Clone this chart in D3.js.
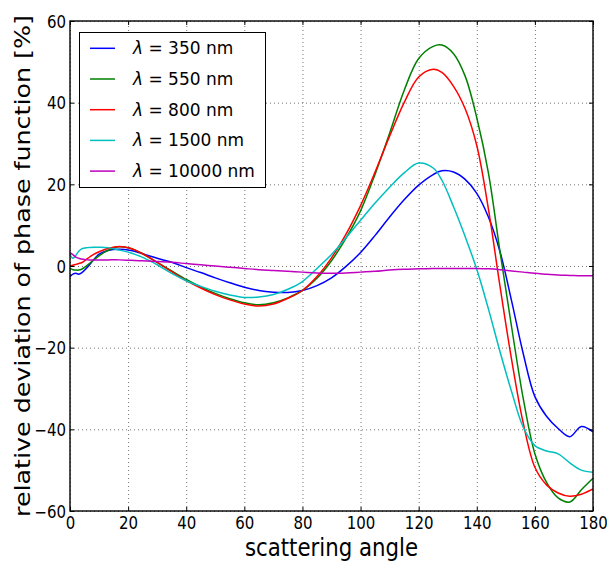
<!DOCTYPE html>
<html>
<head>
<meta charset="utf-8">
<script src="https://cdn.jsdelivr.net/npm/d3@7"></script>
<style>
  html, body { margin: 0; padding: 0; background: #fff; }
  svg { display: block; }
  text { font-family: "DejaVu Sans", sans-serif; fill: #000; }
</style>
</head>
<body>
<svg id="chart" width="607" height="561"></svg>
<script>
// ---- data ----
const angles = [0, 1, 2, 3, 4, 6, 8, 10, 13, 17, 21, 25, 30, 35, 40, 45, 50, 55, 60, 65, 70, 75, 80, 85, 90, 95, 100, 105, 110, 115, 120, 125, 128, 132, 136, 140, 144, 148, 152, 156, 160, 164, 168, 172, 176, 180];
const wl350 = [-2.6, -2.0, -1.8, -2.0, -1.7, -0.3, 1.4, 2.9, 3.8, 4.1, 3.8, 3.0, 1.9, 0.9, -0.4, -1.6, -2.9, -4.1, -5.2, -6.0, -6.4, -6.5, -6.0, -4.8, -2.9, -0.1, 3.3, 7.5, 12.0, 16.2, 19.8, 22.4, 23.3, 23.0, 21.2, 17.8, 12.0, 3.5, -8.6, -21.5, -32.0, -36.8, -39.8, -41.8, -39.3, -40.6];
const wl550 = [-0.6, -0.9, -1.0, -1.0, -0.8, 0.2, 1.4, 2.5, 3.8, 4.7, 4.3, 3.0, 0.9, -1.2, -3.3, -5.1, -6.7, -8.0, -9.0, -9.5, -9.0, -7.8, -6.0, -3.0, 1.3, 6.8, 13.5, 22.5, 32.5, 43.0, 50.8, 53.8, 54.1, 52.0, 46.5, 36.3, 22.8, 3.5, -15.0, -32.5, -46.0, -53.0, -56.8, -57.8, -54.8, -52.0];
const wl800 = [0.0, 0.2, 0.4, 0.6, 0.8, 1.8, 2.8, 3.5, 4.3, 4.8, 4.3, 3.0, 0.9, -1.4, -3.6, -5.4, -7.0, -8.3, -9.3, -9.8, -9.3, -7.9, -6.0, -2.6, 2.0, 7.8, 14.8, 23.0, 31.8, 40.0, 46.3, 48.2, 47.4, 44.0, 38.5, 29.5, 14.0, -5.0, -23.0, -38.5, -49.3, -53.6, -55.6, -56.4, -55.9, -54.6];
const wl1500 = [2.8, 1.9, 2.6, 3.6, 4.2, 4.5, 4.6, 4.6, 4.5, 3.9, 3.2, 2.1, 0.3, -1.8, -3.6, -5.0, -6.2, -7.1, -7.7, -7.6, -7.0, -5.7, -3.8, -0.6, 2.8, 6.9, 11.2, 15.4, 19.3, 22.8, 25.2, 24.0, 21.0, 14.5, 7.2, -0.8, -10.5, -21.0, -30.8, -39.5, -44.0, -45.3, -46.0, -48.2, -50.0, -50.5];
const wl10000 = [3.3, 2.8, 2.2, 1.9, 1.7, 1.5, 1.5, 1.5, 1.5, 1.5, 1.4, 1.3, 1.1, 0.9, 0.6, 0.3, 0.0, -0.3, -0.6, -0.9, -1.1, -1.3, -1.5, -1.7, -1.8, -1.7, -1.5, -1.3, -1.0, -0.8, -0.7, -0.6, -0.6, -0.6, -0.6, -0.6, -0.7, -0.9, -1.2, -1.5, -1.8, -2.0, -2.2, -2.3, -2.4, -2.4];
const seriesNames = ["350", "550", "800", "1500", "10000"];
const seriesValues = [wl350, wl550, wl800, wl1500, wl10000];
const seriesColors = ["#0000ff", "#008000", "#ff0000", "#00bfbf", "#bf00bf"];
const xTicks = [0, 20, 40, 60, 80, 100, 120, 140, 160, 180];
const yTicks = [-60, -40, -20, 0, 20, 40, 60];
const xLabel = "scattering angle";
const yLabel = "relative deviation of phase function [%]";

// ---- layout ----
const L = 70, R = 593, T = 21, B = 511;
const svg = d3.select("#chart");
const x = d3.scaleLinear().domain([0, 180]).range([L, R]);
const y = d3.scaleLinear().domain([-60, 60]).range([B, T]);
const TS = 1.12; // vertical text stretch

// grid
const gx = svg.append("g").attr("transform", `translate(0,${B})`)
  .call(d3.axisBottom(x).tickValues(xTicks).tickSize(-(B - T)).tickFormat(""));
const gy = svg.append("g").attr("transform", `translate(${L},0)`)
  .call(d3.axisLeft(y).tickValues(yTicks).tickSize(-(R - L)).tickFormat(""));
[gx, gy].forEach(g => {
  g.select(".domain").remove();
  g.selectAll("line").attr("stroke", "#000").attr("stroke-opacity", 0.55)
    .attr("stroke-width", 1).attr("stroke-dasharray", "1,3");
});

// lines
const line = d3.line().x(d => x(d[0])).y(d => y(d[1])).curve(d3.curveCatmullRom.alpha(0.5));
const plot = svg.append("g");
seriesValues.forEach((vals, i) => {
  const pts = angles.map((a, j) => [a, vals[j]]);
  plot.append("path").datum(pts).attr("d", line)
    .attr("fill", "none").attr("stroke", seriesColors[i]).attr("stroke-width", 1.5)
    .attr("stroke-linejoin", "round");
});

// inward ticks on all sides
const tb = svg.append("g").attr("transform", `translate(0,${B})`)
  .call(d3.axisBottom(x).tickValues(xTicks).tickSize(-4).tickFormat(""));
const tt = svg.append("g").attr("transform", `translate(0,${T})`)
  .call(d3.axisTop(x).tickValues(xTicks).tickSize(-4).tickFormat(""));
const tl = svg.append("g").attr("transform", `translate(${L},0)`)
  .call(d3.axisLeft(y).tickValues(yTicks).tickSize(-4).tickFormat(""));
const tr = svg.append("g").attr("transform", `translate(${R},0)`)
  .call(d3.axisRight(y).tickValues(yTicks).tickSize(-4).tickFormat(""));
[tb, tt, tl, tr].forEach(g => {
  g.select(".domain").remove();
  g.selectAll("line").attr("stroke", "#000").attr("stroke-width", 1);
});

// frame
svg.append("rect").attr("x", L).attr("y", T).attr("width", R - L).attr("height", B - T)
  .attr("fill", "none").attr("stroke", "#000").attr("stroke-width", 1.4);

// tick labels
const lb = svg.append("g").attr("transform", `translate(0,${B})`)
  .call(d3.axisBottom(x).tickValues(xTicks).tickSize(0));
lb.select(".domain").remove();
lb.selectAll("text").attr("y", null).attr("dy", null)
  .attr("transform", `translate(0,18) scale(1,${TS})`)
  .attr("font-size", 15).attr("font-family", "DejaVu Sans").attr("fill", "#000");
const ll = svg.append("g").attr("transform", `translate(${L},0)`)
  .call(d3.axisLeft(y).tickValues(yTicks).tickSize(0));
ll.select(".domain").remove();
ll.selectAll("text").attr("x", null).attr("dy", null)
  .attr("transform", `translate(-4,6) scale(1,${TS})`)
  .attr("font-size", 15).attr("font-family", "DejaVu Sans").attr("fill", "#000");

// axis labels
svg.append("text").attr("text-anchor", "middle")
  .attr("transform", `translate(${(L + R) / 2},556) scale(1,1.19)`)
  .attr("font-size", 21.3).text(xLabel);
svg.append("text").attr("text-anchor", "middle")
  .attr("transform", `translate(30,${(T + B) / 2}) rotate(-90) scale(1.19,1)`)
  .attr("font-size", 21.3).text(yLabel);

// legend
const lg = svg.append("g");
lg.append("rect").attr("x", 79.5).attr("y", 32.5).attr("width", 186).attr("height", 155)
  .attr("fill", "#fff").attr("stroke", "#000").attr("stroke-width", 1);
seriesNames.forEach((n, i) => {
  const yy = 48.3 + i * 30.7;
  lg.append("line").attr("x1", 90).attr("x2", 115).attr("y1", yy).attr("y2", yy)
    .attr("stroke", seriesColors[i]).attr("stroke-width", 1.5);
  const t = lg.append("text").attr("transform", `translate(133,${yy + 6})`)
    .attr("font-size", 17);
  t.append("tspan").attr("font-style", "italic").text("λ");
  t.append("tspan").text(` = ${n} nm`);
});
</script>
</body>
</html>
